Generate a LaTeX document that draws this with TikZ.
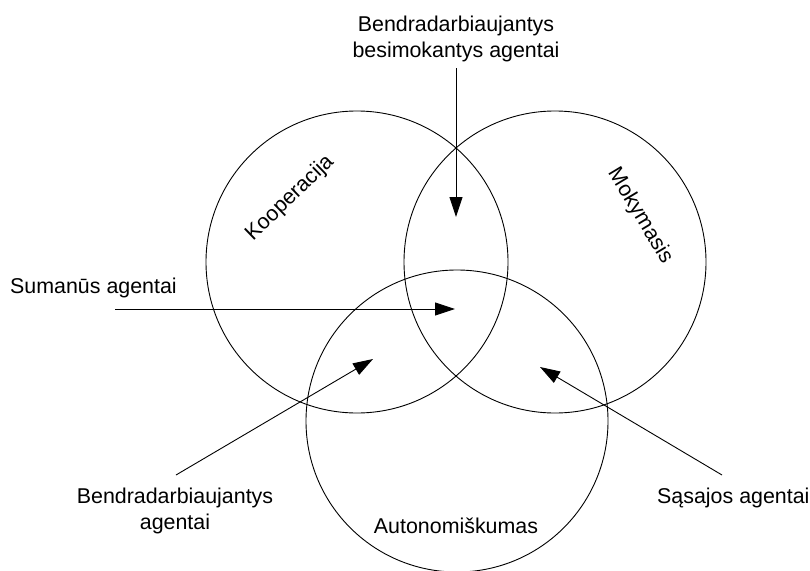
\documentclass[tikz,border=0pt]{standalone}
\usepackage{fontspec}
\setmainfont{Liberation Sans}
\usetikzlibrary{arrows.meta,positioning}

\begin{document}
\begin{tikzpicture}[x=1pt, y=-1pt, every node/.style={inner sep=0pt, font=\fontsize{21.4}{26}\selectfont}]
    \tikzstyle{set} = [circle, draw, line width=0.9pt, minimum size=302pt]
    \tikzstyle{agentlabel} = [align=center]
    \tikzstyle{arrow} = [line width=0.9pt, -{Triangle[length=20pt,width=13pt]}]

    \useasboundingbox (0,0) rectangle (810,570);

    % Sets
    \node [set] (koop) at (357,262) {};
    \node [set] (moky) at (555,262) {};
    \node [set] (auto) at (457,421) {};
    \node [rotate=44] (koopname) at (290,198) {Kooperacija};
    \node [rotate=-59] (mokyname) at (640,216) {Mokymasis};
    \node [anchor=base] (autoname) at (456,533) {Autonomiškumas};

    % Agent types
    \node [agentlabel, anchor=north] (bba) at (456,15.5) {Bendradarbiaujantys\\besimokantys agentai};
    \node [anchor=base west] (suman) at (10,293) {Sumanūs agentai};
    \node [agentlabel, anchor=north] (bendr) at (175,487.5) {Bendradarbiaujantys\\agentai};
    \node [anchor=base west] (sasaj) at (657,503) {Sąsajos agentai};

    % Arrow ends
    \coordinate (bbatip) at (456,217);
    \coordinate (sumstart) at (115,309);
    \coordinate (sumtip) at (455,309);
    \coordinate (bendrstart) at (176,475);
    \coordinate (bendrtip) at (373,359);
    \coordinate (sasajstart) at (722,475);
    \coordinate (sasajtip) at (540,367);

    % Arrows
    \draw [arrow, shorten <=6.5pt] (bba.south) -- (bbatip);
    \draw [arrow] (sumstart) -- (sumtip);
    \draw [arrow] (bendrstart) -- (bendrtip);
    \draw [arrow] (sasajstart) -- (sasajtip);
\end{tikzpicture}
\end{document}
